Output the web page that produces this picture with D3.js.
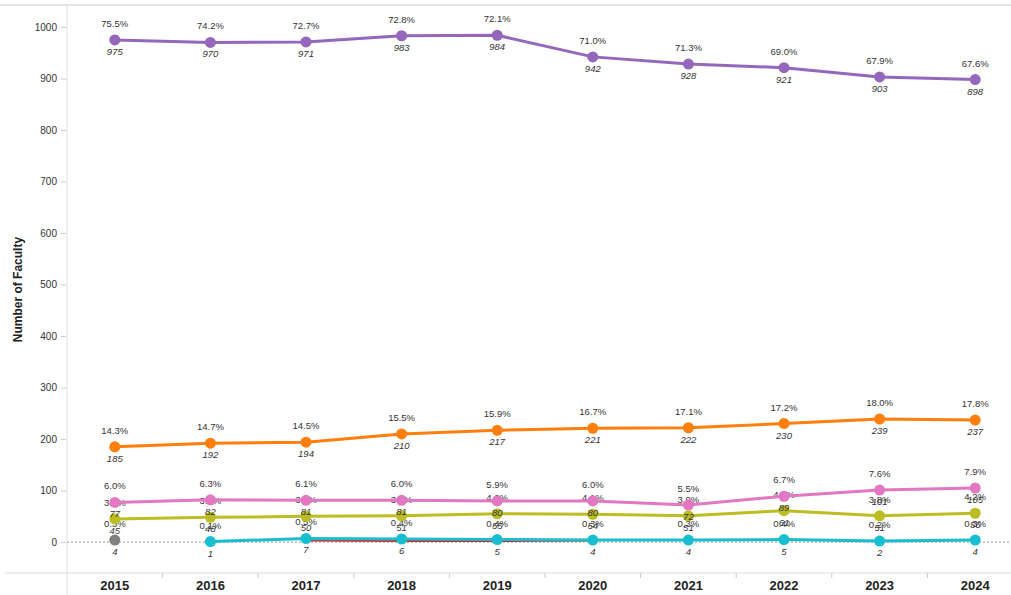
<!DOCTYPE html>
<html>
<head>
<meta charset="utf-8">
<script src="https://cdn.jsdelivr.net/npm/d3@7"></script>
<style>
  body { margin: 0; background: #fff; }
  svg { display: block; font-family: "Liberation Sans", Arial, sans-serif; }
</style>
</head>
<body>
<div id="chart"></div>
<script>
// years on the x axis
const years = ["2015", "2016", "2017", "2018", "2019", "2020", "2021", "2022", "2023", "2024"];
const yTicks = [0, 100, 200, 300, 400, 500, 600, 700, 800, 900, 1000];

// faculty counts per group (null = no point that year)
const purpleVals = [975, 970, 971, 983, 984, 942, 928, 921, 903, 898];
const purplePct = ["75.5%", "74.2%", "72.7%", "72.8%", "72.1%", "71.0%", "71.3%", "69.0%", "67.9%", "67.6%"];
const orangeVals = [185, 192, 194, 210, 217, 221, 222, 230, 239, 237];
const orangePct = ["14.3%", "14.7%", "14.5%", "15.5%", "15.9%", "16.7%", "17.1%", "17.2%", "18.0%", "17.8%"];
const pinkVals = [77, 82, 81, 81, 80, 80, 72, 89, 101, 105];
const pinkPct = ["6.0%", "6.3%", "6.1%", "6.0%", "5.9%", "6.0%", "5.5%", "6.7%", "7.6%", "7.9%"];
const oliveVals = [45, 48, 50, 51, 55, 54, 51, 61, 51, 56];
const olivePct = ["3.5%", "3.7%", "3.7%", "3.8%", "4.0%", "4.1%", "3.9%", "4.6%", "3.8%", "4.2%"];
const cyanVals = [null, 1, 7, 6, 5, 4, 4, 5, 2, 4];
const cyanPct = [null, "0.1%", "0.5%", "0.4%", "0.4%", "0.3%", "0.3%", "0.4%", "0.2%", "0.3%"];
const grayVals = [4, null, null, null, null, null, null, null, null, null];
const grayPct = ["0.3%", null, null, null, null, null, null, null, null, null];
const redVals = [null, null, 3, 2, 2, 3, null, null, null, null];

function drawChart(id) {
  const W = 1011, H = 595;
  const plotLeft = 67, axisY = 573;

  const svg = d3.select(`#${id}`).append("svg").attr("width", W).attr("height", H);

  const x = d3.scalePoint().domain(years).range([plotLeft, 1023]).padding(0.5);
  const y = d3.scaleLinear().domain([-60, 1000]).range([axisY, 27]);

  // frame lines
  svg.append("line").attr("x1", 0).attr("x2", W).attr("y1", 5).attr("y2", 5)
    .attr("stroke", "#e4e4e4").attr("stroke-width", 2);
  svg.append("line").attr("x1", plotLeft).attr("x2", plotLeft).attr("y1", 5).attr("y2", H)
    .attr("stroke", "#e0e0e0");
  svg.append("line").attr("x1", 5).attr("x2", W).attr("y1", axisY).attr("y2", axisY)
    .attr("stroke", "#dcdcdc");

  // zero line
  svg.append("line").attr("x1", plotLeft).attr("x2", W).attr("y1", y(0)).attr("y2", y(0))
    .attr("stroke", "#999").attr("stroke-dasharray", "2,2");

  // y axis
  const yAxis = svg.append("g").attr("transform", `translate(${plotLeft - 1},0)`)
    .call(d3.axisLeft(y).tickValues(yTicks).tickFormat(d3.format("d")).tickSize(5).tickPadding(4));
  yAxis.select(".domain").remove();
  yAxis.selectAll(".tick line").attr("stroke", "#ccc");
  yAxis.selectAll(".tick text").attr("fill", "#333").style("font-size", "10px");

  svg.append("text")
    .attr("transform", `translate(22,${y(500) + 5}) rotate(-90)`)
    .attr("text-anchor", "middle")
    .style("font-size", "12px").style("font-weight", "bold").attr("fill", "#222")
    .text("Number of Faculty");

  // x labels and separator ticks
  const step = x.step();
  years.forEach((yr, i) => {
    svg.append("text").attr("x", x(yr)).attr("y", 590)
      .attr("text-anchor", "middle")
      .style("font-size", "13px").style("font-weight", "bold").attr("fill", "#222")
      .text(yr);
    if (i > 0) {
      const sx = x(yr) - step / 2;
      svg.append("line").attr("x1", sx).attr("x2", sx).attr("y1", axisY).attr("y2", axisY + 5)
        .attr("stroke", "#ccc");
    }
  });

  const series = [
    { vals: redVals, pct: null, color: "#d62728", width: 2, r: 0 },
    { vals: grayVals, pct: grayPct, color: "#7f7f7f", width: 3, r: 5.5 },
    { vals: cyanVals, pct: cyanPct, color: "#17becf", width: 3, r: 5.5 },
    { vals: oliveVals, pct: olivePct, color: "#bcbd22", width: 3, r: 5.5 },
    { vals: pinkVals, pct: pinkPct, color: "#e377c2", width: 3, r: 5.5 },
    { vals: orangeVals, pct: orangePct, color: "#ff7f0e", width: 3, r: 5.5 },
    { vals: purpleVals, pct: purplePct, color: "#9467bd", width: 3, r: 5.5 },
  ];

  const line = d3.line()
    .defined((d) => d.v !== null)
    .x((d) => x(d.year))
    .y((d) => y(d.v));

  series.forEach((s) => {
    const pts = years.map((yr, i) => ({ year: yr, v: s.vals[i], pct: s.pct ? s.pct[i] : null }));
    svg.append("path").datum(pts)
      .attr("d", line)
      .attr("fill", "none")
      .attr("stroke", s.color)
      .attr("stroke-width", s.width)
      .attr("stroke-linejoin", "round");

    const valid = pts.filter((d) => d.v !== null);
    if (s.r > 0) {
      svg.selectAll(null).data(valid).enter().append("circle")
        .attr("cx", (d) => x(d.year)).attr("cy", (d) => y(d.v)).attr("r", s.r)
        .attr("fill", s.color);
    }
    if (s.pct) {
      // percent label above, count below
      svg.selectAll(null).data(valid).enter().append("text")
        .attr("x", (d) => x(d.year)).attr("y", (d) => y(d.v) - 13)
        .attr("text-anchor", "middle").style("font-size", "9.5px").attr("fill", "#333")
        .text((d) => d.pct);
      svg.selectAll(null).data(valid).enter().append("text")
        .attr("x", (d) => x(d.year)).attr("y", (d) => y(d.v) + 15)
        .attr("text-anchor", "middle").style("font-size", "9.5px").attr("fill", "#333")
        .style("font-style", "italic")
        .text((d) => d.v);
    }
  });
}

document.addEventListener("DOMContentLoaded", function () {
  drawChart("chart");
});
</script>
</body>
</html>
